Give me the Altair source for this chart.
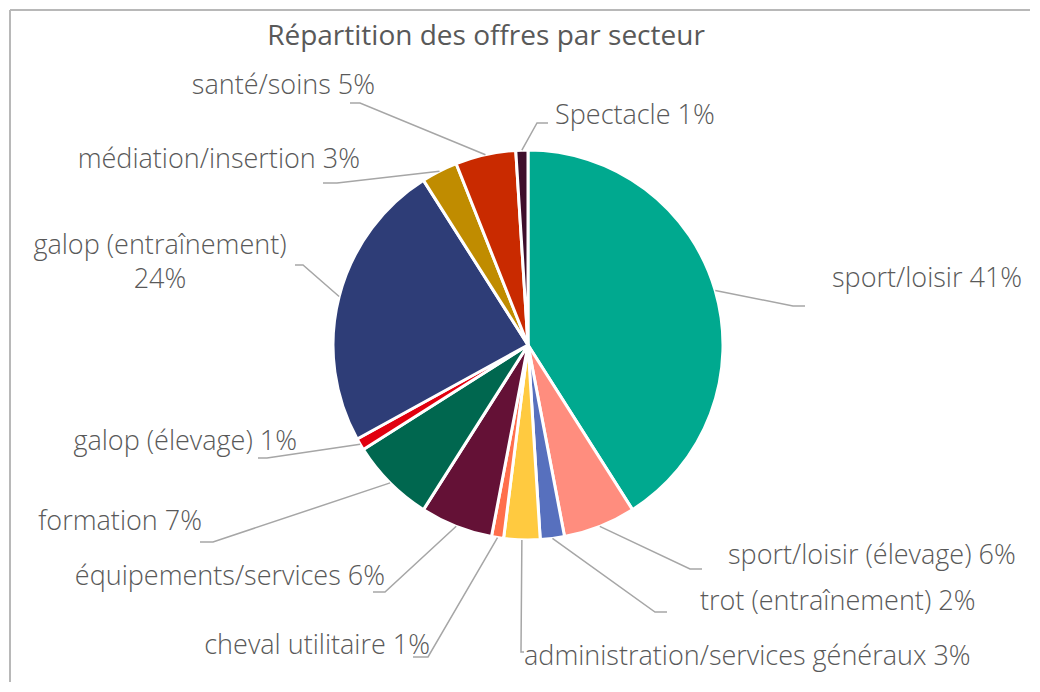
import math
import altair as alt
import pandas as pd

# ---- data -------------------------------------------------------------
categories = [
    "sport/loisir", "sport/loisir (élevage)", "trot (entraînement)",
    "administration/services généraux", "cheval utilitaire",
    "équipements/services", "formation", "galop (élevage)",
    "galop (entraînement)", "médiation/insertion", "santé/soins", "Spectacle",
]
values = [41, 6, 2, 3, 1, 6, 7, 1, 24, 3, 5, 1]
colors = [
    "#00A98F", "#FF8D7E", "#5770BE", "#FFCA40", "#FF6F4C", "#641136",
    "#00674F", "#E1000F", "#2E3D77", "#C08C00", "#C92A00", "#3E0F2C",
]
title_text = "Répartition des offres par secteur"

# ---- layout (label placement, pixel offsets from pie centre, y up) ----
RADIUS = 195
elbow = [(265, 39), (162, -224), (127, -267), (-7, -307), (-100, -312), (-143, -247),
         (-315, -197), (-261, -113), (-225, 80), (-191, 162), (-168, 242), (9, 222)]
stub_end = [(277, 39), (174, -224), (139, -267), (-4, -307), (-115, -312), (-155, -247),
            (-328, -197), (-270, -113), (-233, 80), (-205, 162), (-178, 242), (20, 222)]
label_pos = [(304, 66), (200, -211), (172, -257), (-4, -312), (-98, -301), (-143, -232),
             (-326, -177), (-231, -97), (-368, 99), (-168, 185), (-153, 259), (27, 229)]
label_align = ["left", "left", "left", "left", "right", "right",
               "right", "right", "center", "right", "right", "left"]

W, H = 1020, 672
CX, CY = 518, 335  # pie centre inside the plot area (pixels)
xs = alt.Scale(domain=[-CX, W - CX], nice=False, zero=False)
ys = alt.Scale(domain=[-(H - CY), CY], nice=False, zero=False)

pie_df = pd.DataFrame({"cat": categories, "value": values, "idx": range(len(values))})

total = sum(values)
rows = []
cum = 0
for i, (c, v) in enumerate(zip(categories, values)):
    mid = (cum + v / 2) / total * 2 * math.pi
    cum += v
    ex, ey = RADIUS * math.sin(mid), RADIUS * math.cos(mid)
    rows.append({"cat": c, "pt": 0, "x": ex, "y": ey})
    rows.append({"cat": c, "pt": 1, "x": elbow[i][0], "y": elbow[i][1]})
    rows.append({"cat": c, "pt": 2, "x": stub_end[i][0], "y": stub_end[i][1]})
line_df = pd.DataFrame(rows)

lab_rows = []
for i, (c, v) in enumerate(zip(categories, values)):
    txt = f"{c} {v}%" if label_align[i] != "center" else f"{c}\n{v}%"
    lab_rows.append({"label": txt, "x": label_pos[i][0], "y": label_pos[i][1],
                     "align": label_align[i]})
lab_df = pd.DataFrame(lab_rows)

FONT = "Open Sans"

pie = alt.Chart(pie_df).mark_arc(radius=RADIUS, stroke="white", strokeWidth=3).encode(
    theta=alt.Theta("value:Q", stack=True),
    color=alt.Color("cat:N", scale=alt.Scale(domain=categories, range=colors), legend=None),
    order=alt.Order("idx:Q"),
    x=alt.XDatum(0, scale=xs, axis=None),
    y=alt.YDatum(0, scale=ys, axis=None),
)

leaders = alt.Chart(line_df).mark_line(color="#A6A6A6", strokeWidth=1.5).encode(
    x=alt.X("x:Q", scale=xs, axis=None),
    y=alt.Y("y:Q", scale=ys, axis=None),
    detail="cat:N",
    order="pt:Q",
)

def label_layer(al):
    return alt.Chart(lab_df).transform_filter(alt.datum.align == al).mark_text(
        font=FONT, fontSize=27, fontWeight=300, color="#595959",
        baseline="middle", align=al, lineBreak="\n", lineHeight=34,
    ).encode(
        x=alt.X("x:Q", scale=xs, axis=None),
        y=alt.Y("y:Q", scale=ys, axis=None),
        text="label:N",
    )

title = alt.Chart(pd.DataFrame({"t": [title_text]})).mark_text(
    font=FONT, fontSize=28, fontWeight=400, color="#595959",
    align="center", baseline="alphabetic",
).encode(x=alt.value(476), y=alt.value(35), text="t:N")

frame_left = alt.Chart(pd.DataFrame({"a": [0]})).mark_rule(color="#B8B8B8", strokeWidth=2).encode(
    x=alt.value(0), y=alt.value(0), y2=alt.value(H))
frame_top = alt.Chart(pd.DataFrame({"a": [0]})).mark_rule(color="#B8B8B8", strokeWidth=2).encode(
    x=alt.value(0), x2=alt.value(W), y=alt.value(0))

chart = alt.layer(
    pie, leaders, label_layer("left"), label_layer("right"), label_layer("center"),
    title, frame_left, frame_top,
).properties(
    width=W, height=H,
    padding={"left": 2, "top": 2, "right": 0, "bottom": 0},
    autosize=alt.AutoSizeParams(type="none"),
).configure_view(stroke=None).configure(background="white")

chart.save("out.html", embed_options={"renderer": "svg", "actions": False})
